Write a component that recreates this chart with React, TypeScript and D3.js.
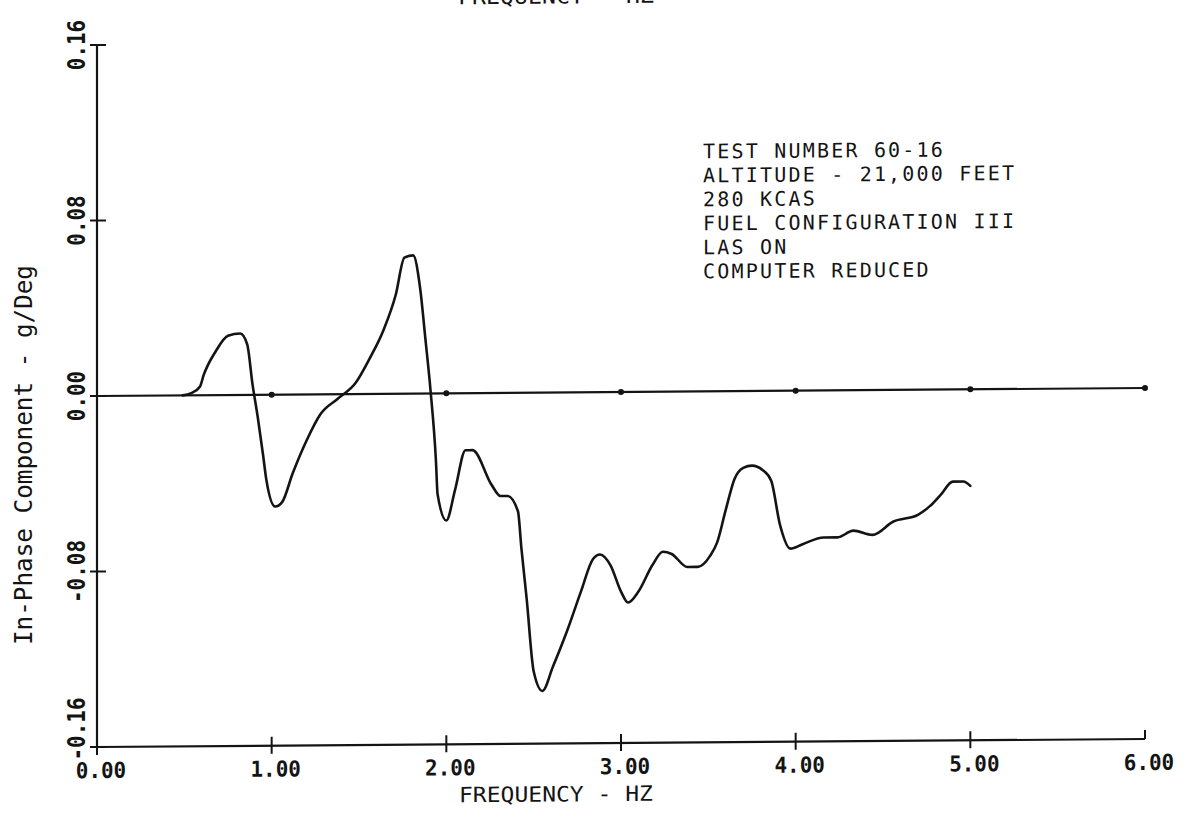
import React from "react";
import * as d3 from "d3";

// ---- data ----
const freq = [0.49,0.54,0.59,0.61,0.68,0.75,0.82,0.86,0.89,0.92,
  0.95,0.97,1.02,1.06,1.12,1.20,1.28,1.38,1.48,1.56,
  1.64,1.71,1.76,1.81,1.85,1.88,1.91,1.94,1.95,2.00,
  2.05,2.11,2.15,2.26,2.31,2.35,2.41,2.43,2.46,2.50,
  2.55,2.61,2.69,2.77,2.84,2.88,2.94,3.00,3.04,3.10,
  3.18,3.24,3.29,3.38,3.44,3.51,3.55,3.60,3.65,3.70,
  3.75,3.81,3.86,3.91,3.97,4.04,4.16,4.24,4.33,4.44,
  4.56,4.70,4.77,4.83,4.90,4.96,5.00];
const inPhase = [0.000,0.001,0.004,0.009,0.020,0.027,0.028,0.023,0.005,-0.010,
  -0.027,-0.039,-0.051,-0.049,-0.036,-0.021,-0.009,-0.002,0.005,0.016,
  0.029,0.045,0.062,0.063,0.048,0.025,0.001,-0.030,-0.046,-0.058,
  -0.044,-0.026,-0.026,-0.042,-0.047,-0.047,-0.054,-0.071,-0.094,-0.127,
  -0.136,-0.125,-0.109,-0.091,-0.076,-0.074,-0.079,-0.091,-0.096,-0.091,
  -0.079,-0.073,-0.074,-0.080,-0.080,-0.075,-0.069,-0.054,-0.040,-0.035,
  -0.034,-0.036,-0.041,-0.061,-0.072,-0.070,-0.067,-0.067,-0.064,-0.066,
  -0.060,-0.057,-0.053,-0.048,-0.042,-0.042,-0.044];

const xTicks = [0, 1, 2, 3, 4, 5, 6];
const xTickLabels = ["0.00", "1.00", "2.00", "3.00", "4.00", "5.00", "6.00"];
const yTicks = [-0.16, -0.08, 0, 0.08, 0.16];
const yTickLabels = ["-0.16", "-0.08", "0.00", "0.08", "0.16"];
const zeroLineDots = [1, 2, 3, 4, 5, 6];
const noteLines = [
  "TEST NUMBER 60-16",
  "ALTITUDE - 21,000 FEET",
  "280 KCAS",
  "FUEL CONFIGURATION III",
  "LAS ON",
  "COMPUTER REDUCED",
];
const xTitle = "FREQUENCY - HZ";
const yTitle = "In-Phase Component - g/Deg";

export default function App() {
  const W = 1189, H = 816;
  const x = d3.scaleLinear().domain([0, 6]).range([97, 1145]);
  const y = d3.scaleLinear().domain([-0.16, 0.16]).range([747, 45]);
  const pts = freq.map((f, i) => [f, inPhase[i]] as [number, number]);
  const line = d3.line<[number, number]>()
    .x(d => x(d[0]))
    .y(d => y(d[1]))
    .curve(d3.curveMonotoneX);

  // slight page tilt of the scanned original
  const slope = 8 / 1048;
  const ang = -Math.atan(slope) * 180 / Math.PI;
  const tilt = `translate(0, ${slope * x(0)}) skewY(${ang})`;

  const mono = "'DejaVu Sans Mono', 'Liberation Mono', monospace";
  const ink = "#141414";
  const charW = 12.6;

  return (
    <svg width={W} height={H} viewBox={`0 0 ${W} ${H}`}
      style={{ position: "absolute", left: 0, top: 0, background: "#fff" }}>
      <rect width={W} height={H} fill="#fff" />
      <g transform={tilt}>
        {/* top cut-off title */}
        <text x={556} y={7} textAnchor="middle" textLength={196} lengthAdjust="spacingAndGlyphs"
          fontFamily={mono} fontSize={22} fill={ink}>{xTitle}</text>

        {/* y axis */}
        <line x1={x(0)} x2={x(0)} y1={y(0.16)} y2={y(-0.16)} stroke={ink} strokeWidth={2.2} />
        {yTicks.map((t, i) => (
          <line key={"yt" + i} x1={x(0) - 7} x2={x(0) + 9} y1={y(t)} y2={y(t)} stroke={ink} strokeWidth={2} />
        ))}
        {/* x axis */}
        <line x1={x(0)} x2={x(6)} y1={y(-0.16)} y2={y(-0.16)} stroke={ink} strokeWidth={2.2} />
        {xTicks.map((t, i) => (
          <line key={"xt" + i} x1={x(t)} x2={x(t)} y1={y(-0.16) - 9} y2={y(-0.16) + (t === 6 ? 0 : 8)} stroke={ink} strokeWidth={2} />
        ))}
        {xTicks.map((t, i) => (
          <text key={"xl" + i} x={x(t) + 4} y={y(-0.16) + 31} textAnchor="middle"
            textLength={xTickLabels[i].length * charW} lengthAdjust="spacingAndGlyphs"
            fontFamily={mono} fontWeight="bold" fontSize={22} fill={ink}>{xTickLabels[i]}</text>
        ))}
        <text x={556} y={y(-0.16) + 58} textAnchor="middle" textLength={194} lengthAdjust="spacingAndGlyphs"
          fontFamily={mono} fontSize={21} fill={ink}>{xTitle}</text>

        {/* zero reference line */}
        <line x1={x(0)} x2={x(6)} y1={y(0)} y2={y(0)} stroke={ink} strokeWidth={2.2} />
        {zeroLineDots.map((t, i) => (
          <circle key={"zd" + i} cx={x(t)} cy={y(0)} r={3} fill={ink} />
        ))}

        {/* data curve */}
        <path d={line(pts) ?? ""} fill="none" stroke={ink} strokeWidth={2.6} strokeLinejoin="round" strokeLinecap="round" />

        {/* annotation block */}
        <text x={703} y={163} fontFamily={mono} fontSize={20} letterSpacing={2.2} fill={ink}>
          {noteLines.map((s, i) => (
            <tspan key={"n" + i} x={703} dy={i === 0 ? 0 : 24}>{s}</tspan>
          ))}
        </text>
      </g>

      {/* y tick labels */}
      {yTicks.map((t, i) => (
        <text key={"yl" + i} transform={`translate(85, ${i === 0 ? y(t) - 18 : y(t)}) rotate(-90)`}
          textAnchor="middle" textLength={yTickLabels[i].length * charW} lengthAdjust="spacingAndGlyphs"
          fontFamily={mono} fontWeight="bold" fontSize={24} fill={ink}>{yTickLabels[i]}</text>
      ))}
      {/* y title */}
      <text transform={`translate(32, 455) rotate(-90)`} textAnchor="middle"
        textLength={380} lengthAdjust="spacingAndGlyphs"
        fontFamily={mono} fontSize={25} fill={ink}>{yTitle}</text>
    </svg>
  );
}
